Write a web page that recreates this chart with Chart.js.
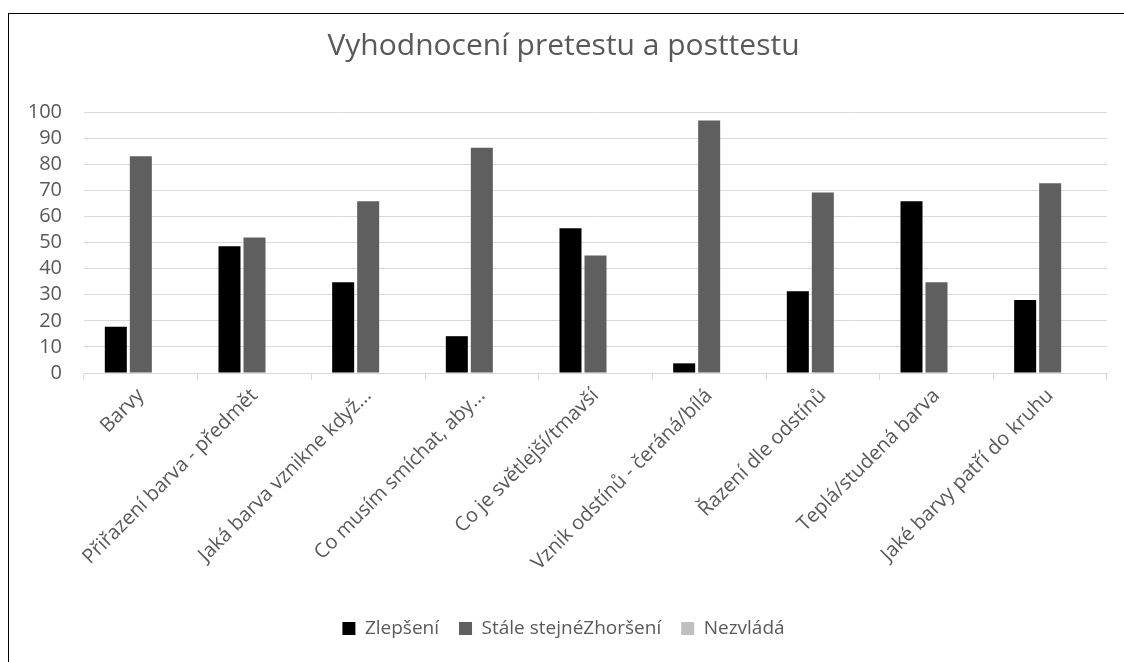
<!DOCTYPE html>
<html>
<head>
<meta charset="utf-8">
<script src="https://cdn.jsdelivr.net/npm/chart.js@4/dist/chart.umd.min.js"></script>
<style>
  html, body { margin: 0; padding: 0; background: #fff; }
  #wrap { position: relative; width: 1124px; height: 662px; overflow: hidden; }
  #frame { position: absolute; left: 8px; top: 13px; width: 1200px; height: 700px;
           border-left: 1.5px solid #000; border-top: 1.5px solid #000; pointer-events: none; }
</style>
</head>
<body>
<div id="wrap">
  <canvas id="chart" width="1124" height="662"></canvas>
  <div id="frame"></div>
</div>
<script>
// data
const categories = [
  'Barvy',
  'Přiřazení barva - předmět',
  'Jaká barva vznikne když...',
  'Co musím smíchat, aby...',
  'Co je světlejší/tmavší',
  'Vznik odstínů - čeráná/bílá',
  'Řazení dle odstínů',
  'Teplá/studená barva',
  'Jaké barvy patří do kruhu'
];
const zlepseni = [17.7, 48.6, 34.8, 14.1, 55.5, 3.7, 31.3, 65.8, 28.0];
const staleStejne = [83.0, 51.9, 65.8, 86.3, 45.0, 96.7, 69.2, 34.8, 72.7];
const nezvlada = [0, 0, 0, 0, 0, 0, 0, 0, 0];
const yTicks = [0, 10, 20, 30, 40, 50, 60, 70, 80, 90, 100];

const FONT = "'Open Sans', 'Noto Sans', sans-serif";
const TXT = '#595959';
const GRID = '#d9d9d9';

new Chart(document.getElementById('chart'), {
  type: 'bar',
  data: {
    labels: categories,
    datasets: [
      { label: 'Zlepšení', data: zlepseni, backgroundColor: '#000000' },
      { label: 'Stále stejnéZhoršení', data: staleStejne, backgroundColor: '#5f5f5f' },
      { label: 'Nezvládá', data: nezvlada, backgroundColor: '#bfbfbf' }
    ]
  },
  options: {
    responsive: false,
    animation: false,
    datasets: { bar: { categoryPercentage: 0.66, barPercentage: 0.88 } },
    layout: { padding: { left: 20, right: 17, top: 28, bottom: 14 } },
    plugins: {
      title: {
        display: true,
        text: 'Vyhodnocení pretestu a posttestu',
        color: TXT,
        font: { family: FONT, size: 30, weight: 'normal' },
        padding: { top: 0, bottom: 48 }
      },
      legend: {
        position: 'bottom',
        labels: {
          color: TXT,
          font: { family: FONT, size: 19 },
          boxWidth: 13, boxHeight: 13,
          padding: 20
        }
      },
      tooltip: { enabled: false }
    },
    scales: {
      x: {
        afterFit: s => { s.height = 226; },
        grid: { drawOnChartArea: false, color: GRID, tickLength: 7, offset: true },
        border: { color: GRID, width: 1 },
        ticks: {
          color: TXT, font: { family: FONT, size: 20 },
          maxRotation: 45, minRotation: 45, autoSkip: false, padding: 4
        }
      },
      y: {
        min: 0, max: 100,
        afterFit: s => { s.width = 64; },
        afterBuildTicks: s => { s.ticks = yTicks.map(v => ({ value: v })); },
        grid: { color: GRID, lineWidth: 1, drawTicks: false },
        border: { display: false },
        ticks: { color: TXT, font: { family: FONT, size: 20 }, padding: 22, autoSkip: false }
      }
    }
  }
});
</script>
</body>
</html>
